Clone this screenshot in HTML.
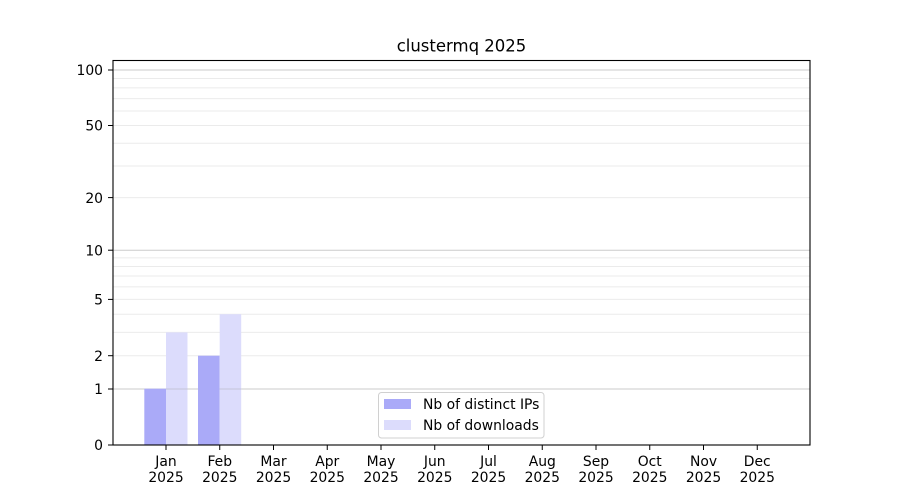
<!DOCTYPE html>
<html>
<head>
<meta charset="utf-8">
<style>
  html, body { margin:0; padding:0; background:#fff; }
  svg { display:block; }
  text { font-family: "DejaVu Sans", "Liberation Sans", sans-serif; fill:#000; }
</style>
</head>
<body>
<svg width="900" height="500" viewBox="0 0 900 500" xmlns="http://www.w3.org/2000/svg">
  <rect x="0" y="0" width="900" height="500" fill="#fff"/>
  <!-- minor gridlines -->
  <g stroke="#ebebeb" stroke-width="1">
    <line x1="113" x2="810" y1="355.7" y2="355.7"/>
    <line x1="113" x2="810" y1="332.4" y2="332.4"/>
    <line x1="113" x2="810" y1="314.2" y2="314.2"/>
    <line x1="113" x2="810" y1="299.4" y2="299.4"/>
    <line x1="113" x2="810" y1="286.9" y2="286.9"/>
    <line x1="113" x2="810" y1="276.0" y2="276.0"/>
    <line x1="113" x2="810" y1="266.5" y2="266.5"/>
    <line x1="113" x2="810" y1="257.9" y2="257.9"/>
    <line x1="113" x2="810" y1="197.6" y2="197.6"/>
    <line x1="113" x2="810" y1="166.0" y2="166.0"/>
    <line x1="113" x2="810" y1="143.2" y2="143.2"/>
    <line x1="113" x2="810" y1="125.5" y2="125.5"/>
    <line x1="113" x2="810" y1="111.0" y2="111.0"/>
    <line x1="113" x2="810" y1="98.6" y2="98.6"/>
    <line x1="113" x2="810" y1="87.9" y2="87.9"/>
    <line x1="113" x2="810" y1="78.5" y2="78.5"/>
  </g>
  <!-- major gridlines -->
  <g stroke="#cbcbcb" stroke-width="1">
    <line x1="113" x2="810" y1="389" y2="389"/>
    <line x1="113" x2="810" y1="250.2" y2="250.2"/>
    <line x1="113" x2="810" y1="70" y2="70"/>
  </g>
  <!-- bars -->
  <rect x="144.3" y="388.7" width="21.7" height="56.3" fill="#aaaaf8"/>
  <rect x="166" y="332.4" width="21.5" height="112.6" fill="#dcdcfc"/>
  <rect x="198" y="355.7" width="21.7" height="89.3" fill="#aaaaf8"/>
  <rect x="219.7" y="314.2" width="21.5" height="130.8" fill="#dcdcfc"/>
  <line x1="166" x2="187.5" y1="389" y2="389" stroke="#c4c4d8" stroke-width="1"/>
  <line x1="219.7" x2="241.2" y1="389" y2="389" stroke="#c4c4d8" stroke-width="1"/>
  <!-- frame -->
  <rect x="113" y="60.5" width="697" height="384.5" fill="none" stroke="#000" stroke-width="1.1"/>
  <!-- y ticks -->
  <g stroke="#000" stroke-width="1">
    <line x1="108" x2="113" y1="445" y2="445"/>
    <line x1="108" x2="113" y1="389" y2="389"/>
    <line x1="108" x2="113" y1="355.7" y2="355.7"/>
    <line x1="108" x2="113" y1="299.4" y2="299.4"/>
    <line x1="108" x2="113" y1="250.2" y2="250.2"/>
    <line x1="108" x2="113" y1="197.6" y2="197.6"/>
    <line x1="108" x2="113" y1="125.5" y2="125.5"/>
    <line x1="108" x2="113" y1="70" y2="70"/>
  </g>
  <g font-size="13.9" text-anchor="end">
    <text x="103" y="450">0</text>
    <text x="103" y="394">1</text>
    <text x="103" y="361">2</text>
    <text x="103" y="304.5">5</text>
    <text x="103" y="255.5">10</text>
    <text x="103" y="203">20</text>
    <text x="103" y="130.5">50</text>
    <text x="103" y="75">100</text>
  </g>
  <!-- x ticks -->
  <g stroke="#000" stroke-width="1">
    <line x1="166" x2="166" y1="445" y2="450"/>
    <line x1="219.75" x2="219.75" y1="445" y2="450"/>
    <line x1="273.5" x2="273.5" y1="445" y2="450"/>
    <line x1="327.25" x2="327.25" y1="445" y2="450"/>
    <line x1="381" x2="381" y1="445" y2="450"/>
    <line x1="434.75" x2="434.75" y1="445" y2="450"/>
    <line x1="488.5" x2="488.5" y1="445" y2="450"/>
    <line x1="542.25" x2="542.25" y1="445" y2="450"/>
    <line x1="596" x2="596" y1="445" y2="450"/>
    <line x1="649.75" x2="649.75" y1="445" y2="450"/>
    <line x1="703.5" x2="703.5" y1="445" y2="450"/>
    <line x1="757.25" x2="757.25" y1="445" y2="450"/>
  </g>
  <g font-size="13.9" text-anchor="middle">
    <text x="166" y="466">Jan</text><text x="166" y="482">2025</text>
    <text x="219.75" y="466">Feb</text><text x="219.75" y="482">2025</text>
    <text x="273.5" y="466">Mar</text><text x="273.5" y="482">2025</text>
    <text x="327.25" y="466">Apr</text><text x="327.25" y="482">2025</text>
    <text x="381" y="466">May</text><text x="381" y="482">2025</text>
    <text x="434.75" y="466">Jun</text><text x="434.75" y="482">2025</text>
    <text x="488.5" y="466">Jul</text><text x="488.5" y="482">2025</text>
    <text x="542.25" y="466">Aug</text><text x="542.25" y="482">2025</text>
    <text x="596" y="466">Sep</text><text x="596" y="482">2025</text>
    <text x="649.75" y="466">Oct</text><text x="649.75" y="482">2025</text>
    <text x="703.5" y="466">Nov</text><text x="703.5" y="482">2025</text>
    <text x="757.25" y="466">Dec</text><text x="757.25" y="482">2025</text>
  </g>
  <!-- title -->
  <text x="461.5" y="51.5" font-size="16.5" text-anchor="middle">clustermq 2025</text>
  <!-- legend -->
  <rect x="378.5" y="392.5" width="165.5" height="45.5" rx="3" ry="3" fill="#fff" fill-opacity="0.85" stroke="#d0d0d0" stroke-width="1"/>
  <rect x="384" y="399" width="27" height="10" fill="#aaaaf8"/>
  <rect x="384" y="420" width="27" height="10" fill="#dcdcfc"/>
  <g font-size="13.9">
    <text x="423" y="409">Nb of distinct IPs</text>
    <text x="423" y="430">Nb of downloads</text>
  </g>
</svg>
</body>
</html>
